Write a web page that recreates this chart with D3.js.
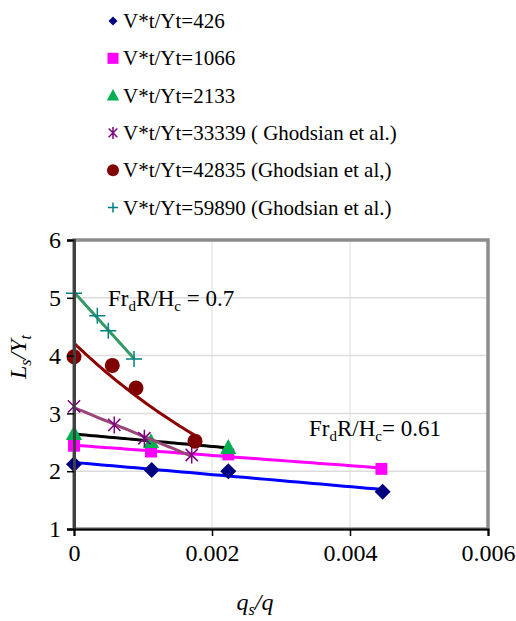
<!DOCTYPE html>
<html>
<head>
<meta charset="utf-8">
<script src="https://cdn.jsdelivr.net/npm/d3@7"></script>
<style>
  body { margin: 0; background: #fff; }
  svg { display: block; }
</style>
</head>
<body>
<div id="chart"></div>
<script>
// ---- data ----
const legendLabels = [
  'V*t/Yt=426',
  'V*t/Yt=1066',
  'V*t/Yt=2133',
  'V*t/Yt=33339 ( Ghodsian et al.)',
  'V*t/Yt=42835 (Ghodsian et al,)',
  'V*t/Yt=59890 (Ghodsian et al.)'
]
const x426 = [0, 0.001126, 0.002236, 0.004473]
const y426 = [2.12, 2.02, 2.00, 1.645]
const x1066 = [0, 0.001116, 0.002236, 0.004455]
const y1066 = [2.44, 2.34, 2.29, 2.04]
const x2133 = [0, 0.001116, 0.002236]
const y2133 = [2.65, 2.51, 2.41]
const x33339 = [0, 0.000584, 0.00102, 0.001706]
const y33339 = [3.12, 2.80, 2.57, 2.28]
const x42835 = [0, 0.000555, 0.000899, 0.001754]
const y42835 = [3.98, 3.83, 3.44, 2.52]
const x59890 = [0, 0.000338, 0.000497, 0.00087]
const y59890 = [5.08, 4.69, 4.43, 3.94]

const xTicks = [0, 0.002, 0.004, 0.006]
const yTicks = [1, 2, 3, 4, 5, 6]

// ---- layout ----
const width = 516, height = 621
const plot = { left: 74, right: 488, top: 240, bottom: 529 }
const FONT = 'Liberation Serif'

const svg = d3.select('#chart').append('svg')
  .attr('width', width).attr('height', height)

const x = d3.scaleLinear().domain([0, 0.006]).range([plot.left, plot.right])
const y = d3.scaleLinear().domain([1, 6]).range([plot.bottom, plot.top])

// Custom stroke-only markers
function starPath(r) {
  const d = r * 0.72
  return `M${-d},${-d}L${d},${d}M${-d},${d}L${d},${-d}M0,${-r}L0,${r}`
}
function plusPath(r) {
  return `M${-r},0L${r},0M0,${-r}L0,${r}`
}

function linearFit(xs, ys) {
  const mx = d3.mean(xs), my = d3.mean(ys)
  let sxy = 0, sxx = 0
  xs.forEach((v, i) => { sxy += (v - mx) * (ys[i] - my); sxx += (v - mx) * (v - mx) })
  const b = sxy / sxx
  return t => my + b * (t - mx)
}
function expFit(xs, ys) {
  const f = linearFit(xs, ys.map(Math.log))
  return t => Math.exp(f(t))
}

const series = [
  { xs: x426, ys: y426, marker: 'diamond', fill: '#000080', line: '#0000ff', fit: linearFit },
  { xs: x1066, ys: y1066, marker: 'square', fill: '#ff00ff', line: '#ff00ff', fit: linearFit },
  { xs: x2133, ys: y2133, marker: 'triangle', fill: '#00b050', line: '#000000', fit: linearFit },
  { xs: x33339, ys: y33339, marker: 'star', fill: '#800080', line: '#9b4677', fit: linearFit },
  { xs: x42835, ys: y42835, marker: 'circle', fill: '#800000', line: '#8b0000', fit: expFit },
  { xs: x59890, ys: y59890, marker: 'plus', fill: '#008080', line: '#339966', fit: linearFit }
]

function drawMarker(g, type, color, s) {
  if (type === 'diamond') {
    g.append('path').attr('d', `M0,${-s}L${s},0L0,${s}L${-s},0Z`).attr('fill', color)
  } else if (type === 'square') {
    g.append('rect').attr('x', -s * 0.85).attr('y', -s * 0.85)
      .attr('width', s * 1.7).attr('height', s * 1.7).attr('fill', color)
  } else if (type === 'triangle') {
    g.append('path').attr('d', `M0,${-s}L${s * 0.95},${s * 0.75}L${-s * 0.95},${s * 0.75}Z`).attr('fill', color)
  } else if (type === 'circle') {
    g.append('circle').attr('r', s).attr('fill', color)
  } else if (type === 'star') {
    g.append('path').attr('d', starPath(s)).attr('stroke', color).attr('stroke-width', 1.5).attr('fill', 'none')
  } else if (type === 'plus') {
    g.append('path').attr('d', plusPath(s)).attr('stroke', color).attr('stroke-width', 1.5).attr('fill', 'none')
  }
}

// ---- gridlines ----
svg.append('g').selectAll('line').data(yTicks.filter(d => d > 1 && d < 6)).join('line')
  .attr('x1', plot.left).attr('x2', plot.right)
  .attr('y1', d => y(d)).attr('y2', d => y(d))
  .attr('stroke', '#dcdcdc').attr('stroke-width', 1.5)
svg.append('g').selectAll('line').data(xTicks.filter(d => d > 0 && d < 0.006)).join('line')
  .attr('x1', d => x(d)).attr('x2', d => x(d))
  .attr('y1', plot.top).attr('y2', plot.bottom)
  .attr('stroke', '#dcdcdc').attr('stroke-width', 1)

// Plot area frame
svg.append('rect')
  .attr('x', plot.left).attr('y', plot.top)
  .attr('width', plot.right - plot.left).attr('height', plot.bottom - plot.top)
  .attr('fill', 'none').attr('stroke', '#8c8c8c').attr('stroke-width', 3.5)

// ---- series: trendline then markers ----
const markerSize = { diamond: 8, square: 7, triangle: 8.5, circle: 7.5, star: 8.5, plus: 8 }
series.forEach(s => {
  const f = s.fit(s.xs, s.ys)
  const x0 = d3.min(s.xs), x1 = d3.max(s.xs)
  const pts = d3.range(0, 41).map(i => x0 + (x1 - x0) * i / 40)
  svg.append('path')
    .datum(pts)
    .attr('d', d3.line().x(t => x(t)).y(t => y(f(t))))
    .attr('fill', 'none').attr('stroke', s.line).attr('stroke-width', 3)
  s.xs.forEach((v, i) => {
    const g = svg.append('g').attr('transform', `translate(${x(v)},${y(s.ys[i])})`)
    drawMarker(g, s.marker, s.fill, markerSize[s.marker])
  })
})

// ---- axes ----
const yAxis = svg.append('g').attr('transform', `translate(${plot.left},0)`)
  .call(d3.axisLeft(y).tickValues(yTicks).tickSize(7).tickPadding(6).tickFormat(d3.format('d')))
yAxis.select('.domain').attr('stroke', '#404040').attr('stroke-width', 3)
yAxis.selectAll('.tick line').attr('stroke', '#000').attr('stroke-width', 1.5)
yAxis.selectAll('.tick text').attr('fill', '#000')
  .attr('font-family', FONT).attr('font-size', 24)

const xAxis = svg.append('g').attr('transform', `translate(0,${plot.bottom})`)
  .call(d3.axisBottom(x).tickValues(xTicks).tickSize(7).tickPadding(8)
    .tickFormat(d => d === 0 ? '0' : d3.format('.3f')(d)))
xAxis.select('.domain').attr('stroke', '#000').attr('stroke-width', 2)
xAxis.selectAll('.tick line').attr('stroke', '#000').attr('stroke-width', 1.5)
xAxis.selectAll('.tick text').attr('fill', '#000')
  .attr('font-family', FONT).attr('font-size', 24)

// ---- axis titles ----
const yt = svg.append('text')
  .attr('transform', 'translate(26,357) rotate(-90)')
  .attr('font-family', FONT)
  .attr('text-anchor', 'middle').attr('font-size', 24).attr('font-style', 'italic')
yt.append('tspan').text('L')
yt.append('tspan').text('s').attr('dy', 5).attr('font-size', 16)
yt.append('tspan').text('/Y').attr('dy', -5)
yt.append('tspan').text('t').attr('dy', 5).attr('font-size', 16)

const xt = svg.append('text')
  .attr('x', 255).attr('y', 610)
  .attr('font-family', FONT)
  .attr('text-anchor', 'middle').attr('font-size', 24).attr('font-style', 'italic')
xt.append('tspan').text('q')
xt.append('tspan').text('s').attr('dy', 5).attr('font-size', 16)
xt.append('tspan').text('/q').attr('dy', -5)

// ---- annotations ----
function froude(xp, yp, tail) {
  const t = svg.append('text').attr('x', xp).attr('y', yp)
    .attr('font-family', FONT).attr('font-size', 23)
  t.append('tspan').text('Fr')
  t.append('tspan').text('d').attr('dy', 5).attr('font-size', 15)
  t.append('tspan').text('R/H').attr('dy', -5)
  t.append('tspan').text('c').attr('dy', 5).attr('font-size', 15)
  t.append('tspan').text(tail).attr('dy', -5)
}
froude(108, 306, ' = 0.7')
froude(309, 436, '= 0.61')

// ---- legend ----
const legendMarker = { diamond: 4.5, square: 6.5, triangle: 6.5, circle: 6, star: 6, plus: 5 }
const legend = svg.append('g')
legendLabels.forEach((label, i) => {
  const ly = 21 + i * 37.3
  const g = legend.append('g').attr('transform', `translate(113,${ly})`)
  drawMarker(g, series[i].marker, series[i].fill, legendMarker[series[i].marker])
  legend.append('text').attr('x', 123).attr('y', ly + 7)
    .attr('font-family', FONT).attr('font-size', 21).text(label)
})
</script>
</body>
</html>
